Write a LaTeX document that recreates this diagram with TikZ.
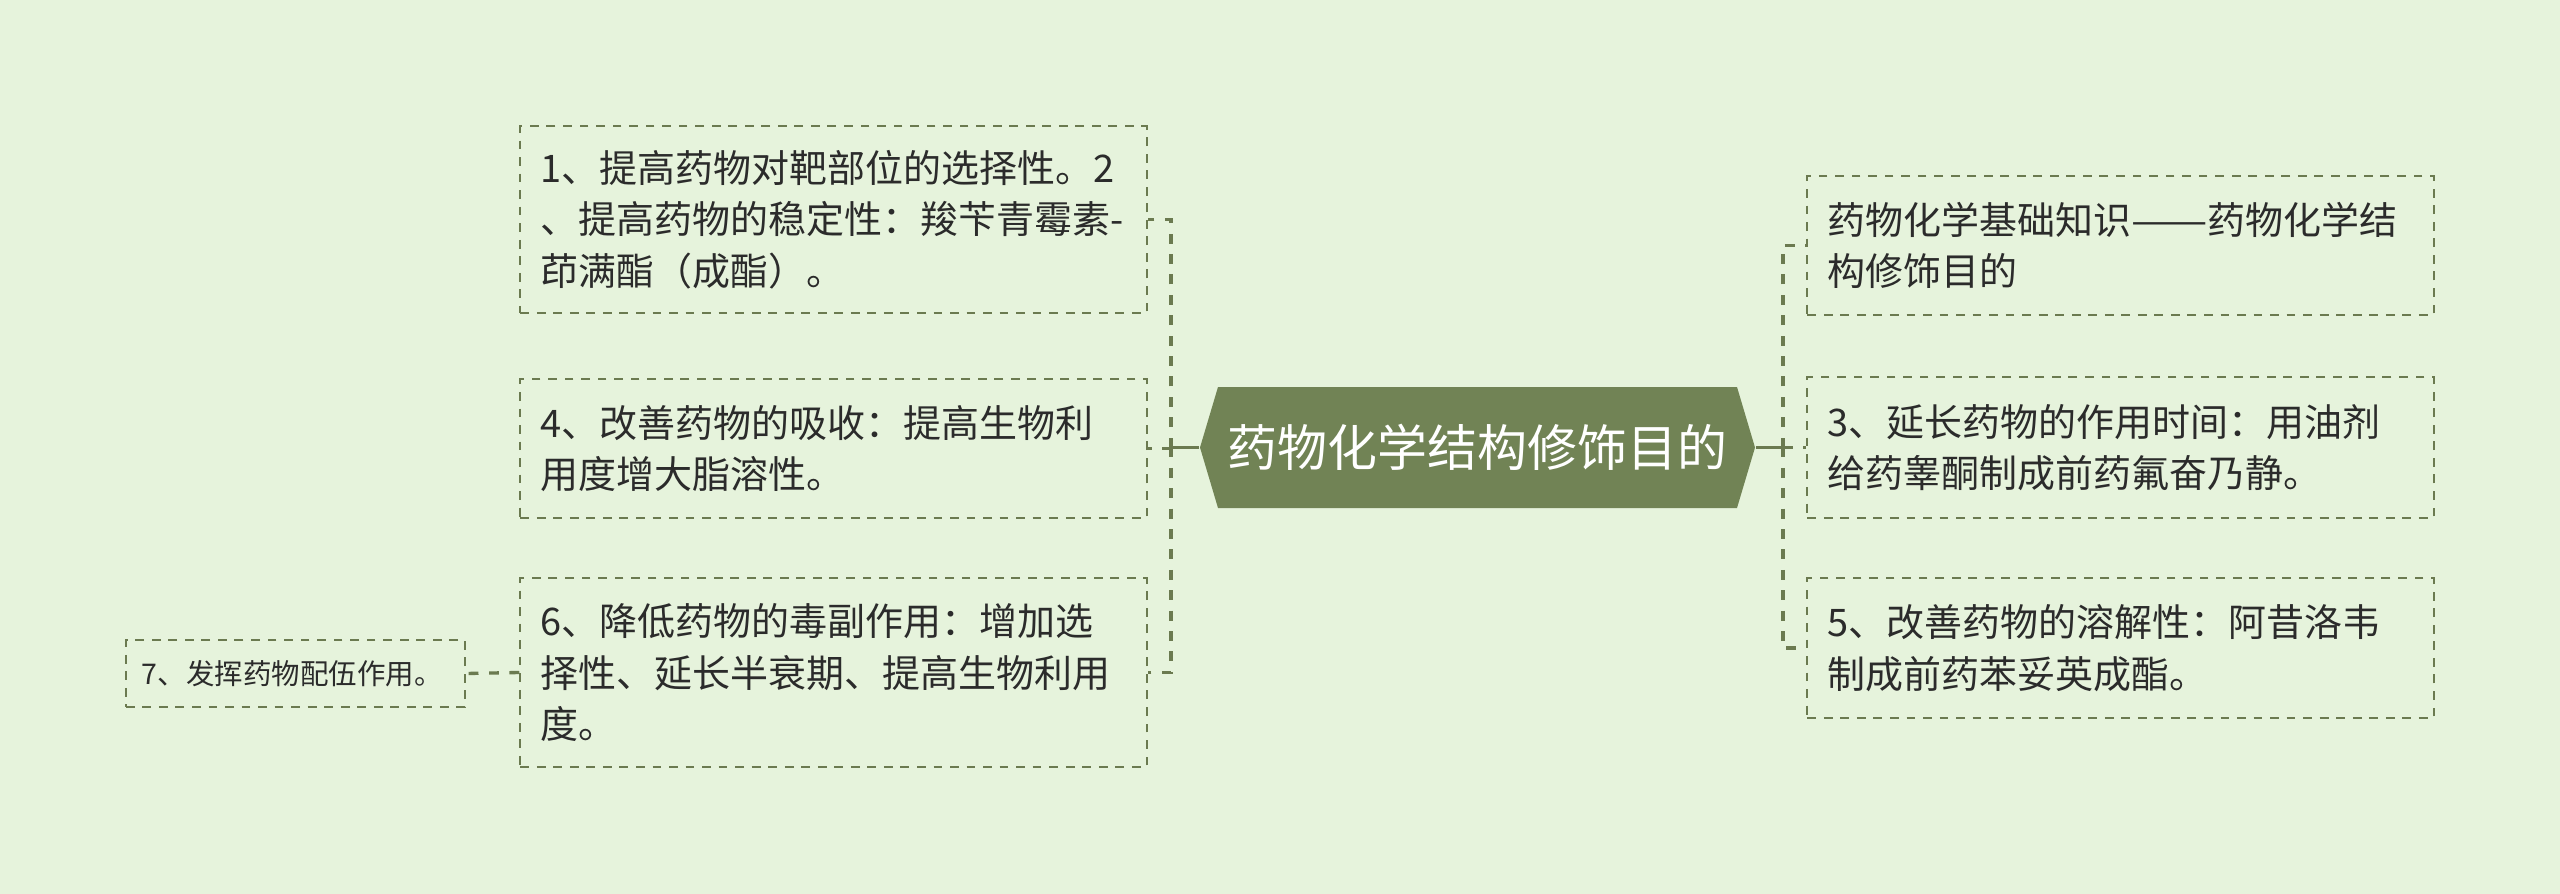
\documentclass[tikz,border=0pt]{standalone}
\usepackage{fontspec}
\setmainfont{Noto Sans CJK SC}
\definecolor{bgc}{HTML}{E6F3DC}
\definecolor{rootc}{HTML}{718355}
\definecolor{linec}{HTML}{6B7A50}
\definecolor{txtc}{HTML}{2B2B2B}
\begin{document}
\begin{tikzpicture}[x=0.01cm,y=-0.01cm,
    box/.style={draw=linec,line width=0.6pt,dash pattern=on 2.5pt off 2.2pt,
        text=txtc,align=left,inner xsep=0.2cm,inner ysep=0pt,text width=5.86cm,
        font=\fontsize{10.8}{14.6}\selectfont},
    link/.style={linec,line width=0.95pt,dash pattern=on 2.8pt off 3pt}]
\fill[bgc] (0,0) rectangle (2560,894);
\useasboundingbox (0,0) rectangle (2560,894);
\fill[rootc] (1200,447.5)--(1218,387)--(1737,387)--(1755,447.5)--(1737,508)--(1218,508)--cycle;
\node[text=white,minimum width=5.55cm,minimum height=1.21cm,inner sep=0pt,
    font=\fontsize{14.2}{16}\selectfont] (root) at (1477.5,447.5) {药物化学结构修饰目的};

\node[box,minimum height=1.87cm] (tl) at (833.5,219.5)
    {1、提高药物对靶部位的选择性。2\\、提高药物的稳定性：羧苄青霉素-\\茚满酯（成酯）。};
\node[box,minimum height=1.39cm] (ml) at (833.5,448.5)
    {4、改善药物的吸收：提高生物利\\用度增大脂溶性。};
\node[box,minimum height=1.89cm] (bl) at (833.5,672.5)
    {6、降低药物的毒副作用：增加选\\择性、延长半衰期、提高生物利用\\度。};
\node[box,minimum height=0.67cm,inner xsep=0.16cm,text width=3.07cm,
    font=\fontsize{8.1}{10}\selectfont] (sm) at (295.5,673.5) {7、发挥药物配伍作用。};

\node[box,minimum height=1.39cm] (tr) at (2120.5,245.5)
    {药物化学基础知识\scalebox{1.2}[1]{——}药物化学结\\构修饰目的};
\node[box,minimum height=1.41cm] (mr) at (2120.5,447.5)
    {3、延长药物的作用时间：用油剂\\给药睾酮制成前药氟奋乃静。};
\node[box,minimum height=1.40cm] (br) at (2120.5,648)
    {5、改善药物的溶解性：阿昔洛韦\\制成前药苯妥英成酯。};

\coordinate (lj) at (1171,447.5);
\coordinate (rj) at (1783,447.5);
\draw[linec,line width=0.95pt] (root.west)--(lj);
\draw[linec,line width=0.95pt] (root.east)--(rj);
\foreach \n in {tl,ml,bl}
{
    \draw[link] (lj) |- (\n.east);
}
\foreach \n in {tr,mr,br}
{
    \draw[link] (rj) |- (\n.west);
}
\draw[link] (bl.west)--(sm.east);
\end{tikzpicture}
\end{document}
